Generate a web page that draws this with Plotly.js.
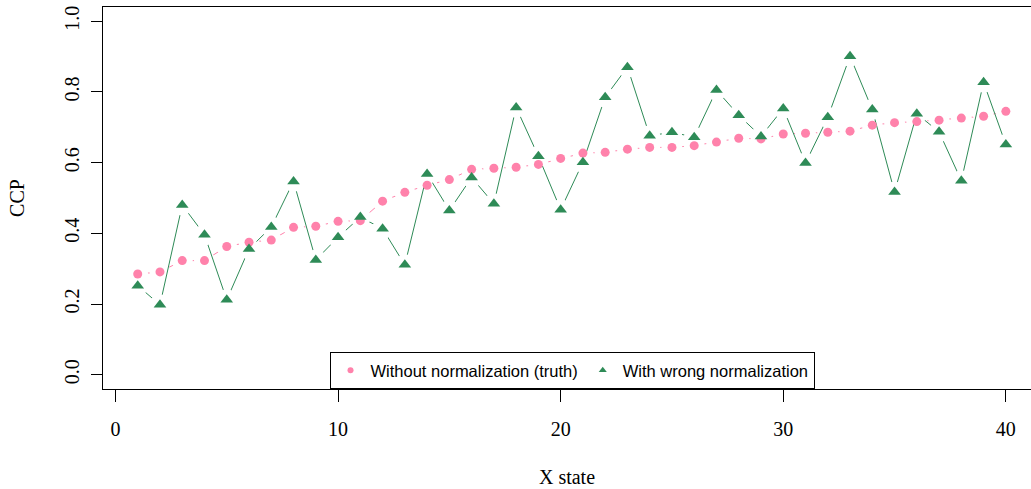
<!DOCTYPE html>
<html>
<head>
<meta charset="utf-8">
<script src="https://cdn.plot.ly/plotly-3.0.1.min.js"></script>
<style>
  html, body { margin: 0; padding: 0; background: #ffffff; }
  #chart { width: 1031px; height: 489px; }
</style>
</head>
<body>
<div id="chart"></div>
<script>
// ---- data ----
const xState = [1, 2, 3, 4, 5, 6, 7, 8, 9, 10,
                11, 12, 13, 14, 15, 16, 17, 18, 19, 20,
                21, 22, 23, 24, 25, 26, 27, 28, 29, 30,
                31, 32, 33, 34, 35, 36, 37, 38, 39, 40];

const truthCCP = [0.285, 0.291, 0.323, 0.323, 0.363, 0.375, 0.381, 0.417, 0.420, 0.434,
                  0.436, 0.491, 0.516, 0.536, 0.552, 0.581, 0.584, 0.587, 0.595, 0.612,
                  0.627, 0.629, 0.638, 0.643, 0.643, 0.648, 0.658, 0.669, 0.667, 0.681,
                  0.683, 0.686, 0.689, 0.706, 0.713, 0.716, 0.720, 0.726, 0.731, 0.745];

const wrongCCP = [0.252, 0.198, 0.480, 0.396, 0.212, 0.356, 0.418, 0.547, 0.325, 0.389,
                  0.446, 0.413, 0.311, 0.568, 0.465, 0.558, 0.484, 0.756, 0.618, 0.467,
                  0.601, 0.785, 0.870, 0.676, 0.686, 0.672, 0.805, 0.734, 0.674, 0.753,
                  0.599, 0.728, 0.901, 0.750, 0.517, 0.738, 0.687, 0.549, 0.827, 0.651];

const seriesNames = ["Without normalization (truth)", "With wrong normalization"];
const xTicks = [0, 10, 20, 30, 40];
const yTicks = [0, 0.2, 0.4, 0.6, 0.8, 1.0];
const yTickLabels = ["0.0", "0.2", "0.4", "0.6", "0.8", "1.0"];

// ---- styling ----
const pink = "#FF82AB";
const green = "#2E8B57";
const serif = "Liberation Serif, Times New Roman, serif";
const sans = "Liberation Sans, Arial, sans-serif";
const gapSize = 21;   // white halo emulating R's type="b" line gaps

const traces = [
  // truth: line, halo (gap)
  { x: xState, y: truthCCP, type: "scatter", mode: "lines",
    line: { color: pink, width: 1 }, showlegend: false, hoverinfo: "skip" },
  { x: xState, y: truthCCP, type: "scatter", mode: "markers",
    marker: { color: "#ffffff", size: gapSize, symbol: "circle" }, showlegend: false, hoverinfo: "skip" },
  // wrong normalization: line, halo
  { x: xState, y: wrongCCP, type: "scatter", mode: "lines",
    line: { color: green, width: 1 }, showlegend: false, hoverinfo: "skip" },
  { x: xState, y: wrongCCP, type: "scatter", mode: "markers",
    marker: { color: "#ffffff", size: gapSize, symbol: "circle" }, showlegend: false, hoverinfo: "skip" },
  // markers
  { x: xState, y: truthCCP, type: "scatter", mode: "markers", name: seriesNames[0],
    marker: { color: pink, size: 9, symbol: "circle" }, showlegend: false },
  { x: xState, y: wrongCCP, type: "scatter", mode: "markers", name: seriesNames[1],
    marker: { color: green, size: 11, symbol: "triangle-up" }, showlegend: false },
  // legend entries (smaller symbols, like R's legend)
  { x: [null], y: [null], type: "scatter", mode: "markers", name: seriesNames[0],
    marker: { color: pink, size: 6, symbol: "circle" }, showlegend: true, hoverinfo: "skip" },
  { x: [null], y: [null], type: "scatter", mode: "markers", name: seriesNames[1],
    marker: { color: green, size: 7, symbol: "triangle-up" }, showlegend: true, hoverinfo: "skip" }
];

const layout = {
  width: 1031,
  height: 489,
  margin: { l: 103, r: 0, t: 7, b: 100, pad: 0 },
  paper_bgcolor: "#ffffff",
  plot_bgcolor: "#ffffff",
  showlegend: true,
  font: { family: serif, size: 20, color: "#000000" },
  xaxis: {
    range: [-0.56, 41.13],
    tickmode: "array",
    tickvals: xTicks,
    ticktext: xTicks.map(String),
    ticks: "outside",
    ticklen: 12,
    tickwidth: 1,
    tickcolor: "#000000",
    ticklabelstandoff: 10,
    showline: true,
    linecolor: "#000000",
    linewidth: 1,
    mirror: true,
    showgrid: false,
    zeroline: false,
    tickfont: { family: serif, size: 20, color: "#000000" },
    title: { text: "X state", font: { family: serif, size: 20, color: "#000000" }, standoff: 30 },
    automargin: false
  },
  yaxis: {
    range: [-0.04, 1.04],
    tickmode: "array",
    tickvals: yTicks,
    ticktext: yTickLabels,
    tickangle: -90,
    ticks: "outside",
    ticklen: 11,
    tickwidth: 1,
    tickcolor: "#000000",
    ticklabelstandoff: 4,
    showline: true,
    linecolor: "#000000",
    linewidth: 1,
    mirror: false,
    showgrid: false,
    zeroline: false,
    tickfont: { family: serif, size: 20, color: "#000000" },
    title: { text: "CCP", font: { family: serif, size: 20, color: "#000000" }, standoff: 31 },
    automargin: false
  },
  legend: {
    orientation: "h",
    x: 0.5054,
    xanchor: "center",
    y: 0,
    yanchor: "bottom",
    bgcolor: "#ffffff",
    bordercolor: "#000000",
    borderwidth: 1,
    font: { family: sans, size: 16.5, color: "#000000" },
    itemclick: false,
    itemdoubleclick: false
  }
};

Plotly.newPlot("chart", traces, layout, { displayModeBar: false, staticPlot: true });
</script>
</body>
</html>
